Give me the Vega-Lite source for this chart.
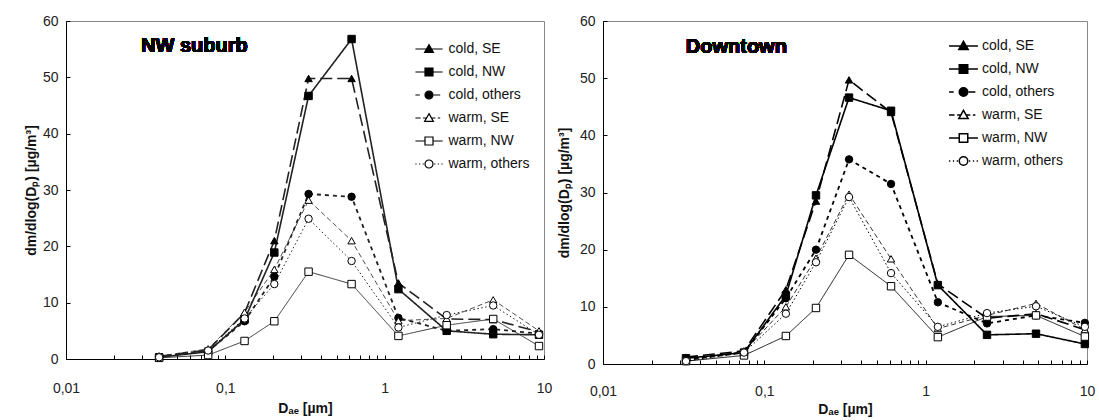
{
  "$schema": "https://vega.github.io/schema/vega-lite/v6.json",
  "padding": {"left": 23, "top": 13, "right": 5, "bottom": 0},
  "spacing": 3,
  "config": {
    "font": "Liberation Sans",
    "view": {"stroke": "#888", "strokeWidth": 1},
    "axis": {"domainColor": "#000", "domainWidth": 1, "tickColor": "#000", "tickWidth": 1, "labelFont": "Liberation Sans", "labelFontSize": 14, "labelColor": "#222", "titleFont": "Liberation Sans", "titleFontSize": 14, "titleFontWeight": "bold", "titleColor": "#111", "grid": false, "tickSize": -4, "labelFlush": false, "labelOverlap": false},
    "axisY": {"labelPadding": 12},
    "legend": {"title": null, "orient": "none", "padding": 0, "labelFontSize": 14, "labelFont": "Liberation Sans", "labelColor": "#111", "symbolStrokeColor": "#000", "symbolOpacity": 1}
  },
  "datasets": {
    "nw": [
      {"s": "cold, SE", "d": 0.0384, "v": 0.5}, {"s": "cold, SE", "d": 0.078, "v": 1.6}, {"s": "cold, SE", "d": 0.132, "v": 8.2}, {"s": "cold, SE", "d": 0.203, "v": 21.0}, {"s": "cold, SE", "d": 0.333, "v": 49.8}, {"s": "cold, SE", "d": 0.62, "v": 49.8}, {"s": "cold, SE", "d": 1.22, "v": 13.5}, {"s": "cold, SE", "d": 2.45, "v": 7.1}, {"s": "cold, SE", "d": 4.8, "v": 7.0}, {"s": "cold, SE", "d": 9.3, "v": 4.8},
      {"s": "cold, NW", "d": 0.0384, "v": 0.3}, {"s": "cold, NW", "d": 0.078, "v": 1.3}, {"s": "cold, NW", "d": 0.132, "v": 7.0}, {"s": "cold, NW", "d": 0.203, "v": 18.9}, {"s": "cold, NW", "d": 0.333, "v": 46.7}, {"s": "cold, NW", "d": 0.62, "v": 56.8}, {"s": "cold, NW", "d": 1.22, "v": 12.4}, {"s": "cold, NW", "d": 2.45, "v": 5.0}, {"s": "cold, NW", "d": 4.8, "v": 4.4}, {"s": "cold, NW", "d": 9.3, "v": 4.3},
      {"s": "cold, others", "d": 0.0384, "v": 0.4}, {"s": "cold, others", "d": 0.078, "v": 1.4}, {"s": "cold, others", "d": 0.132, "v": 6.7}, {"s": "cold, others", "d": 0.203, "v": 14.6}, {"s": "cold, others", "d": 0.333, "v": 29.3}, {"s": "cold, others", "d": 0.62, "v": 28.8}, {"s": "cold, others", "d": 1.22, "v": 7.3}, {"s": "cold, others", "d": 2.45, "v": 5.0}, {"s": "cold, others", "d": 4.8, "v": 5.3}, {"s": "cold, others", "d": 9.3, "v": 4.5},
      {"s": "warm, SE", "d": 0.0384, "v": 0.5}, {"s": "warm, SE", "d": 0.078, "v": 1.8}, {"s": "warm, SE", "d": 0.132, "v": 8.3}, {"s": "warm, SE", "d": 0.203, "v": 15.9}, {"s": "warm, SE", "d": 0.333, "v": 28.2}, {"s": "warm, SE", "d": 0.62, "v": 21.0}, {"s": "warm, SE", "d": 1.22, "v": 6.8}, {"s": "warm, SE", "d": 2.45, "v": 7.2}, {"s": "warm, SE", "d": 4.8, "v": 10.5}, {"s": "warm, SE", "d": 9.3, "v": 5.0},
      {"s": "warm, NW", "d": 0.0384, "v": 0.2}, {"s": "warm, NW", "d": 0.078, "v": 0.7}, {"s": "warm, NW", "d": 0.132, "v": 3.2}, {"s": "warm, NW", "d": 0.203, "v": 6.7}, {"s": "warm, NW", "d": 0.333, "v": 15.5}, {"s": "warm, NW", "d": 0.62, "v": 13.3}, {"s": "warm, NW", "d": 1.22, "v": 4.1}, {"s": "warm, NW", "d": 2.45, "v": 6.0}, {"s": "warm, NW", "d": 4.8, "v": 7.1}, {"s": "warm, NW", "d": 9.3, "v": 2.3},
      {"s": "warm, others", "d": 0.0384, "v": 0.3}, {"s": "warm, others", "d": 0.078, "v": 1.5}, {"s": "warm, others", "d": 0.132, "v": 7.2}, {"s": "warm, others", "d": 0.203, "v": 13.3}, {"s": "warm, others", "d": 0.333, "v": 24.9}, {"s": "warm, others", "d": 0.62, "v": 17.4}, {"s": "warm, others", "d": 1.22, "v": 5.6}, {"s": "warm, others", "d": 2.45, "v": 7.8}, {"s": "warm, others", "d": 4.8, "v": 9.5}, {"s": "warm, others", "d": 9.3, "v": 4.3}
    ],
    "dt": [
      {"s": "cold, SE", "d": 0.0327, "v": 1.2}, {"s": "cold, SE", "d": 0.0748, "v": 2.3}, {"s": "cold, SE", "d": 0.136, "v": 13.0}, {"s": "cold, SE", "d": 0.209, "v": 28.5}, {"s": "cold, SE", "d": 0.335, "v": 49.7}, {"s": "cold, SE", "d": 0.61, "v": 44.0}, {"s": "cold, SE", "d": 1.19, "v": 14.0}, {"s": "cold, SE", "d": 2.4, "v": 8.0}, {"s": "cold, SE", "d": 4.83, "v": 8.8}, {"s": "cold, SE", "d": 9.7, "v": 6.0},
      {"s": "cold, NW", "d": 0.0327, "v": 1.0}, {"s": "cold, NW", "d": 0.0748, "v": 2.0}, {"s": "cold, NW", "d": 0.136, "v": 12.0}, {"s": "cold, NW", "d": 0.209, "v": 29.5}, {"s": "cold, NW", "d": 0.335, "v": 46.6}, {"s": "cold, NW", "d": 0.61, "v": 44.3}, {"s": "cold, NW", "d": 1.19, "v": 13.8}, {"s": "cold, NW", "d": 2.4, "v": 5.1}, {"s": "cold, NW", "d": 4.83, "v": 5.3}, {"s": "cold, NW", "d": 9.7, "v": 3.5},
      {"s": "cold, others", "d": 0.0327, "v": 0.7}, {"s": "cold, others", "d": 0.0748, "v": 2.0}, {"s": "cold, others", "d": 0.136, "v": 11.5}, {"s": "cold, others", "d": 0.209, "v": 20.0}, {"s": "cold, others", "d": 0.335, "v": 35.8}, {"s": "cold, others", "d": 0.61, "v": 31.5}, {"s": "cold, others", "d": 1.19, "v": 10.8}, {"s": "cold, others", "d": 2.4, "v": 7.1}, {"s": "cold, others", "d": 4.83, "v": 8.5}, {"s": "cold, others", "d": 9.7, "v": 7.2},
      {"s": "warm, SE", "d": 0.0327, "v": 0.6}, {"s": "warm, SE", "d": 0.0748, "v": 2.2}, {"s": "warm, SE", "d": 0.136, "v": 10.0}, {"s": "warm, SE", "d": 0.209, "v": 18.5}, {"s": "warm, SE", "d": 0.335, "v": 29.7}, {"s": "warm, SE", "d": 0.61, "v": 18.4}, {"s": "warm, SE", "d": 1.19, "v": 6.2}, {"s": "warm, SE", "d": 2.4, "v": 8.5}, {"s": "warm, SE", "d": 4.83, "v": 10.6}, {"s": "warm, SE", "d": 9.7, "v": 6.0},
      {"s": "warm, NW", "d": 0.0327, "v": 0.5}, {"s": "warm, NW", "d": 0.0748, "v": 1.5}, {"s": "warm, NW", "d": 0.136, "v": 4.9}, {"s": "warm, NW", "d": 0.209, "v": 9.8}, {"s": "warm, NW", "d": 0.335, "v": 19.1}, {"s": "warm, NW", "d": 0.61, "v": 13.6}, {"s": "warm, NW", "d": 1.19, "v": 4.7}, {"s": "warm, NW", "d": 2.4, "v": 8.3}, {"s": "warm, NW", "d": 4.83, "v": 8.5}, {"s": "warm, NW", "d": 9.7, "v": 4.8},
      {"s": "warm, others", "d": 0.0327, "v": 0.5}, {"s": "warm, others", "d": 0.0748, "v": 2.0}, {"s": "warm, others", "d": 0.136, "v": 8.8}, {"s": "warm, others", "d": 0.209, "v": 17.8}, {"s": "warm, others", "d": 0.335, "v": 29.2}, {"s": "warm, others", "d": 0.61, "v": 15.9}, {"s": "warm, others", "d": 1.19, "v": 6.5}, {"s": "warm, others", "d": 2.4, "v": 8.9}, {"s": "warm, others", "d": 4.83, "v": 10.1}, {"s": "warm, others", "d": 9.7, "v": 6.5}
    ]
  },
  "hconcat": [
    {
      "width": 478, "height": 338,
      "data": {"name": "nw"},
      "resolve": {"scale": {"shape": "independent", "fill": "independent"}},
      "layer": [
        {
          "mark": {"type": "line", "stroke": "#222"},
          "encoding": {
            "x": {"field": "d", "type": "quantitative", "scale": {"type": "log", "domain": [0.01, 10]}, "axis": {"title": "Dₐₑ [µm]", "labelPadding": 26, "titlePadding": 6, "values": [0.01,0.02,0.03,0.04,0.05,0.06,0.07,0.08,0.09,0.1,0.2,0.3,0.4,0.5,0.6,0.7,0.8,0.9,1,2,3,4,5,6,7,8,9,10], "labelExpr": "datum.value == 0.01 ? '0,01' : datum.value == 0.1 ? '0,1' : datum.value == 1 ? '1' : datum.value == 10 ? '10' : ''"}},
            "y": {"field": "v", "type": "quantitative", "scale": {"domain": [0, 60]}, "axis": {"title": "dm/dlog(Dₚ) [µg/m³]", "values": [0,10,20,30,40,50,60], "titlePadding": 4}},
            "strokeDash": {"field": "s", "type": "nominal", "scale": {"domain": ["cold, SE","cold, NW","cold, others","warm, SE","warm, NW","warm, others"], "range": [[12,5],[1,0],[4,4],[5,3],[1,0],[1.5,2.5]]}, "legend": null},
            "strokeWidth": {"field": "s", "type": "nominal", "scale": {"type": "ordinal", "domain": ["cold, SE","cold, NW","cold, others","warm, SE","warm, NW","warm, others"], "range": [1.6,1.6,1.8,0.8,0.9,1]}, "legend": null}
          }
        },
        {
          "mark": {"type": "point", "filled": true, "stroke": "#000", "strokeWidth": 1, "opacity": 1, "size": 55},
          "encoding": {
            "x": {"field": "d", "type": "quantitative"},
            "y": {"field": "v", "type": "quantitative"},
            "shape": {"field": "s", "type": "nominal", "scale": {"domain": ["cold, SE","cold, NW","cold, others","warm, SE","warm, NW","warm, others"], "range": ["triangle-up","square","circle","triangle-up","square","circle"]}, "legend": null},
            "fill": {"field": "s", "type": "nominal", "scale": {"domain": ["cold, SE","cold, NW","cold, others","warm, SE","warm, NW","warm, others"], "range": ["#000","#000","#000","#fff","#fff","#fff"]}, "legend": null}
          }
        },
        {
          "mark": {"type": "point", "filled": true, "stroke": "#000", "strokeWidth": 1.2, "opacity": 0},
          "encoding": {
            "x": {"field": "d", "type": "quantitative"},
            "y": {"field": "v", "type": "quantitative"},
            "shape": {"field": "s", "type": "nominal", "scale": {"domain": ["cold, SE","cold, NW","cold, others","warm, SE","warm, NW","warm, others"], "range": [
              "M-1.7,0H1.7M0,-0.55L0.55,0.42L-0.55,0.42Z",
              "M-1.7,0H1.7M-0.5,-0.5H0.5V0.5H-0.5Z",
              "M-1.7,0H-1.15M0.6,0H1.4M0.5,0A0.5,0.5,0,1,1,-0.5,0A0.5,0.5,0,1,1,0.5,0Z",
              "M-1.7,0H-1.05M-0.75,0H-0.32M0.32,0H0.8M1.1,0H1.4M0,-0.55L0.55,0.42L-0.55,0.42Z",
              "M-1.7,0H-0.5M0.5,0H1.7M-0.5,-0.5H0.5V0.5H-0.5Z",
              "M-1.7,0H-1.55M-1.25,0H-1.1M-0.8,0H-0.65M0.65,0H0.8M1.1,0H1.25M1.55,0H1.7M0.5,0A0.5,0.5,0,1,1,-0.5,0A0.5,0.5,0,1,1,0.5,0Z"
            ]}, "legend": {"legendX": 354, "legendY": 19, "symbolSize": 256, "rowPadding": 7, "labelOffset": 10.5, "symbolStrokeWidth": 1.2, "encode": {"symbols": {"update": {"stroke": {"value": "#000"}, "strokeWidth": {"value": 1.2}, "opacity": {"value": 1}}}}}},
            "fill": {"field": "s", "type": "nominal", "scale": {"domain": ["cold, SE","cold, NW","cold, others","warm, SE","warm, NW","warm, others"], "range": ["#000","#000","#000","#fff","#fff","#fff"]}, "legend": {"legendX": 354, "legendY": 19, "symbolSize": 256, "rowPadding": 7, "labelOffset": 10.5, "symbolStrokeWidth": 1.2, "encode": {"symbols": {"update": {"stroke": {"value": "#000"}, "strokeWidth": {"value": 1.2}, "opacity": {"value": 1}}}}}}
          }
        },
        {
          "mark": {"type": "text", "font": "Liberation Sans", "fontWeight": "bold", "fontSize": 20, "align": "left", "baseline": "middle", "fill": "#000"},
          "encoding": {
            "x": {"datum": 0.0296},
            "y": {"datum": 55.5},
            "text": {"value": "NW suburb"}
          }
        }
      ]
    },
    {
      "width": 484, "height": 343,
      "data": {"name": "dt"},
      "resolve": {"scale": {"shape": "independent", "fill": "independent"}},
      "layer": [
        {
          "mark": {"type": "line", "stroke": "#000"},
          "encoding": {
            "x": {"field": "d", "type": "quantitative", "scale": {"type": "log", "domain": [0.01, 10]}, "axis": {"title": "Dₐₑ [µm]", "labelPadding": 24, "titlePadding": 4, "values": [0.01,0.02,0.03,0.04,0.05,0.06,0.07,0.08,0.09,0.1,0.2,0.3,0.4,0.5,0.6,0.7,0.8,0.9,1,2,3,4,5,6,7,8,9,10], "labelExpr": "datum.value == 0.01 ? '0,01' : datum.value == 0.1 ? '0,1' : datum.value == 1 ? '1' : datum.value == 10 ? '10' : ''"}},
            "y": {"field": "v", "type": "quantitative", "scale": {"domain": [0, 60]}, "axis": {"title": "dm/dlog(Dₚ) [µg/m³]", "values": [0,10,20,30,40,50,60], "titlePadding": 8}},
            "strokeDash": {"field": "s", "type": "nominal", "scale": {"domain": ["cold, SE","cold, NW","cold, others","warm, SE","warm, NW","warm, others"], "range": [[12,5],[1,0],[4,4],[5,3],[1,0],[1.5,2.5]]}, "legend": null},
            "strokeWidth": {"field": "s", "type": "nominal", "scale": {"type": "ordinal", "domain": ["cold, SE","cold, NW","cold, others","warm, SE","warm, NW","warm, others"], "range": [1.8,1.8,2,0.8,0.9,1]}, "legend": null}
          }
        },
        {
          "mark": {"type": "point", "filled": true, "stroke": "#000", "strokeWidth": 1, "opacity": 1, "size": 55},
          "encoding": {
            "x": {"field": "d", "type": "quantitative"},
            "y": {"field": "v", "type": "quantitative"},
            "shape": {"field": "s", "type": "nominal", "scale": {"domain": ["cold, SE","cold, NW","cold, others","warm, SE","warm, NW","warm, others"], "range": ["triangle-up","square","circle","triangle-up","square","circle"]}, "legend": null},
            "fill": {"field": "s", "type": "nominal", "scale": {"domain": ["cold, SE","cold, NW","cold, others","warm, SE","warm, NW","warm, others"], "range": ["#000","#000","#000","#fff","#fff","#fff"]}, "legend": null}
          }
        },
        {
          "mark": {"type": "point", "filled": true, "stroke": "#000", "strokeWidth": 1.4, "opacity": 0},
          "encoding": {
            "x": {"field": "d", "type": "quantitative"},
            "y": {"field": "v", "type": "quantitative"},
            "shape": {"field": "s", "type": "nominal", "scale": {"domain": ["cold, SE","cold, NW","cold, others","warm, SE","warm, NW","warm, others"], "range": [
              "M-1.7,0H1.7M0,-0.55L0.55,0.42L-0.55,0.42Z",
              "M-1.7,0H1.7M-0.5,-0.5H0.5V0.5H-0.5Z",
              "M-1.7,0H-1.15M0.6,0H1.4M0.5,0A0.5,0.5,0,1,1,-0.5,0A0.5,0.5,0,1,1,0.5,0Z",
              "M-1.7,0H-1.05M-0.75,0H-0.32M0.32,0H0.8M1.1,0H1.4M0,-0.55L0.55,0.42L-0.55,0.42Z",
              "M-1.7,0H-0.5M0.5,0H1.7M-0.5,-0.5H0.5V0.5H-0.5Z",
              "M-1.7,0H-1.55M-1.25,0H-1.1M-0.8,0H-0.65M0.65,0H0.8M1.1,0H1.25M1.55,0H1.7M0.5,0A0.5,0.5,0,1,1,-0.5,0A0.5,0.5,0,1,1,0.5,0Z"
            ]}, "legend": {"legendX": 351, "legendY": 15.5, "symbolSize": 289, "rowPadding": 6, "labelOffset": 9, "symbolStrokeWidth": 1.5, "encode": {"symbols": {"update": {"stroke": {"value": "#000"}, "strokeWidth": {"value": 1.5}, "opacity": {"value": 1}}}}}},
            "fill": {"field": "s", "type": "nominal", "scale": {"domain": ["cold, SE","cold, NW","cold, others","warm, SE","warm, NW","warm, others"], "range": ["#000","#000","#000","#fff","#fff","#fff"]}, "legend": {"legendX": 351, "legendY": 15.5, "symbolSize": 289, "rowPadding": 6, "labelOffset": 9, "symbolStrokeWidth": 1.5, "encode": {"symbols": {"update": {"stroke": {"value": "#000"}, "strokeWidth": {"value": 1.5}, "opacity": {"value": 1}}}}}}
          }
        },
        {
          "mark": {"type": "text", "font": "Liberation Sans", "fontWeight": "bold", "fontSize": 20, "align": "left", "baseline": "middle", "fill": "#000"},
          "encoding": {
            "x": {"datum": 0.0326},
            "y": {"datum": 55.4},
            "text": {"value": "Downtown"}
          }
        }
      ]
    }
  ]
}
